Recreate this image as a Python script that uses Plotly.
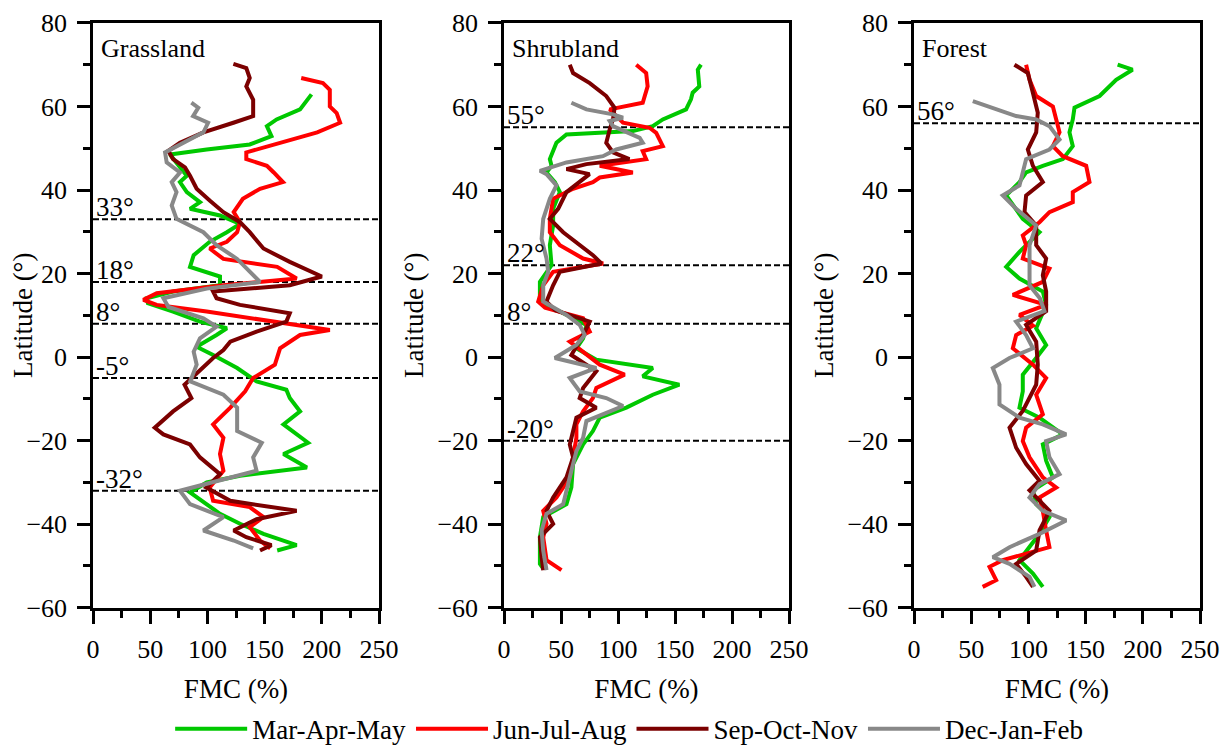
import plotly.graph_objects as go

# ---------------- DATA ----------------
seasons = ["Mar-Apr-May", "Jun-Jul-Aug", "Sep-Oct-Nov", "Dec-Jan-Feb"]
colors = ["#00c800", "#ff0000", "#7b0000", "#888888"]
panels = ["Grassland", "Shrubland", "Forest"]

# Grassland
grass_mam_lat = [62.9,59.3,56.9,55.3,52.9,50.9,49.7,48.5,45.8,43.4,41.9,39.5,37.1,35.5,33.9,31.9,29.9,27.6,24.4,21.6,19.3,17.2,15.7,14.1,12.9,10.9,8.5,6.9,5.3,2.5,0.5,-2.6,-5.8,-7.8,-9.8,-13,-16.1,-20.5,-23.2,-26.4,-28.4,-30,-32.4,-35.2,-37.5,-39.9,-42.3,-45,-46.3]
grass_mam_fmc = [191,181,160.5,152,156,137,99.4,67.3,75,82,76,82,93.5,84.8,111,128.5,117,102,88,84.8,111,111,70,47,48,70,93.5,117,108,90.6,105,126,143,169,172,181,166.5,188,166.5,187,128.5,99.4,84.8,99.4,111,128.5,149,178,161]
grass_jja_lat = [66.8,65.6,64,60,58.4,56.1,53.8,50.5,49,47.4,45.8,44.2,41.9,40.3,37.9,34.7,32.3,29.9,27.6,26,23.5,21.6,18.8,17.2,15.3,13.7,12.5,10.9,6.5,5.3,2.1,-1.8,-5,-8.2,-12.1,-16.1,-19.3,-23.2,-27.2,-31.2,-34.4,-35.9,-38.3,-40.7,-43.9,-45.8]
grass_jja_fmc = [182,201,207,207,213,216,196,155,134,134,152,158,166,146,131,123,128.5,126,117,102,114,161,178,114,55.7,44,55.7,99.4,207,181,163.5,159,140,133,120,105,114,111,114,102,105,137,149,137,146,155]
grass_son_lat = [70.2,69.2,66.8,64.8,61.6,57.7,56.1,53.8,51.3,49.4,47.4,45.4,43.4,40.3,37.5,34.7,32.3,29.9,26,22.8,19.3,17.2,15.7,14.1,12.5,10.5,8.5,6.1,3.7,1.7,-0.2,-3,-6.6,-9.8,-13,-16.9,-18.5,-20.9,-24,-28,-31.2,-34.4,-36.8,-38.8,-41.5,-43.1,-45,-46.3]
grass_son_fmc = [122.7,134,137,134,140,140,122.7,96.5,76,65.8,70,80.4,84.8,90.6,102,114,128.5,137,149,172,200,172,105,108,128.5,172,169,143,120,114,105,93.5,80,86,70,54,61.5,84.8,93.5,111,99,120,178,143,123,134,156,146]
grass_djf_lat = [60.9,59.7,57.7,56.1,53.8,51,49,46.6,44.2,41.9,39.5,36.3,33.1,29.9,26.8,23.5,20.4,18,16.4,14.1,12,9.3,7.3,4.5,1.3,-1.8,-5.8,-9,-12.1,-17.7,-20.5,-24,-27.2,-30.4,-32,-35.2,-38.3,-41.5,-43.9,-45.8]
grass_djf_fmc = [86,92,87.5,100.6,96.5,76,63,64.4,76,68.8,73,68.8,73,96.5,108,126,137,146,99.4,61.5,66,96.5,108,93.5,88,90.6,85,114,126,126,147.5,140,143,99.4,76,84.8,114,96.5,123,140]

# Shrubland
shrub_mam_lat = [70,68.8,64.8,63.3,61.7,59.3,56.9,55.3,54.1,53.3,51.3,47.4,45.8,44.2,41.9,39.5,35.5,31.5,26.8,22,18,13.3,10.9,7.7,4.5,2.1,-0.6,-2.6,-4.6,-6.6,-9,-12.1,-14.5,-17.7,-20.9,-25.6,-31.2,-35.2,-38.3,-43.1,-49.5,-50.6]
shrub_mam_fmc = [172.8,170,171.3,165.5,164,159.7,139.3,130.5,113,54.8,46,40.2,41.7,37.3,44.6,49,43.1,43.1,40.2,41.7,31.5,31.5,49,72.3,69.4,63.5,81,130.5,121.7,153.8,130.5,107.3,84,78,69.4,60.6,59.1,54.8,34.4,31.5,31.5,34.4]
shrub_jja_lat = [70,68,64.8,60.9,59.3,56.1,54.9,53.7,50.5,49.3,47.4,45.8,44.2,43,41.9,40.3,37.9,33.1,29.9,26.8,23.6,22.4,20.4,17.2,13.3,11.8,9.3,6.1,3.7,1.3,-1.8,-4.2,-7.4,-9.8,-13,-16.1,-19.3,-24,-28.8,-33.6,-36.8,-39.9,-43.1,-48.6,-51]
shrub_jja_fmc = [116,124.7,126,121.7,92.7,104.4,127.6,133.5,139.3,121.7,124.7,84,113,84,78,60.6,43.1,40.2,40.2,49,69.4,87,43.1,34.4,30,36,69.4,75.2,57.7,69.4,84,105.8,81,78,69.4,63.5,63.5,60.6,57.7,46,34.4,37.3,34.4,37.3,50.4]
shrub_son_lat = [70,68,65.6,62.5,59.7,56.9,54.5,51.3,49,47.4,46.2,45,43.8,41.9,39.5,35.5,33.1,29.9,26.8,24.4,22.4,20.4,17.2,13.3,11.2,8.5,5.3,0.5,-3.4,-7.4,-9.8,-12.1,-14.5,-17.7,-20.9,-24,-28.8,-33.6,-36.8,-39.9,-43.1,-47.9,-51]
shrub_son_fmc = [57.7,60.6,75.2,89.7,97,95.6,92.7,89.7,95.6,110,72.3,54.8,75,66.4,54.8,47.5,40.2,51.9,66.4,78,85.4,49,43.1,37.3,45,75.2,69.4,59.1,81,69.4,66.4,81,63.5,60.6,57.7,60.6,54.8,43.1,37.3,43.1,31.5,33,34.4]
shrub_djf_lat = [60.9,59.3,58.1,57.3,56.5,55.3,52.5,51.3,49.7,48.1,46.6,44.6,43.8,41.1,37.9,33.1,28.3,23.6,20.4,17.2,13.3,10.1,7.7,5.3,2.9,-0.2,-2.6,-5,-8.2,-9.8,-11.7,-13.3,-15.3,-19.3,-22.5,-27.2,-32,-35.2,-37.5,-41.5,-46.3,-51]
shrub_djf_fmc = [59.1,72.3,95.6,104.4,92.7,95.6,119,121.7,98.5,86.8,54.8,31.5,37.3,46,40.2,34.4,33,37.3,38.8,34.4,34.4,54.8,66.4,70.8,63.5,44.6,81,57.7,66.4,89.7,104.4,89.7,72.3,69.4,63.5,59.1,54.8,51.9,37.3,33,34.4,37.3]

# Forest
forest_mam_lat = [70,68.8,66.4,62.5,59.7,56.9,53.8,50.5,47.4,45.8,44.2,41.9,38.7,36.3,33.1,29.9,25.2,21.6,18.8,15.7,12.5,6.9,2.9,-0.2,-4.2,-8.2,-12.1,-14.5,-18.5,-20.9,-24.8,-28.8,-31.9,-35.2,-38.3,-42.3,-48.6,-51.8,-55]
forest_mam_fmc = [178,191,176.7,162.2,140.3,138.8,135.9,138.8,130.1,112.6,98,92.2,80.6,86.4,95.1,109.7,92.2,80.6,92.2,112.6,115.5,106.8,115.5,106.8,95.1,95.1,92.2,109.7,130.1,112.6,115.5,121.4,104,106.8,118.4,109.7,92.2,104,112.6]
forest_jja_lat = [70,66.4,62.5,60,56.9,53.8,50.5,48.1,45.8,41.9,39.5,37.1,34.7,32.3,29.1,26.8,23.6,21.2,18,14.9,12.5,10.1,7.5,5.3,2.1,-1.8,-5,-9,-13.7,-16.9,-20.1,-24,-28.8,-31.2,-33.6,-36.8,-41.5,-45.5,-48.6,-50.2,-53.4,-55]
forest_jja_fmc = [98,101,106.8,121.4,124.3,127.2,121.4,130.1,150.5,153.4,138.8,138.8,118.4,109.7,95.1,98,95.1,118.4,112.6,86.4,115.5,92.2,104,89.3,86.4,104,115.5,106.8,112.6,98,95.1,101,112.6,124.3,109.7,112.6,115.5,118.4,77.6,66,71.8,60]
forest_son_lat = [70,68,63.3,58.5,53.8,49.7,45.8,41.9,38.7,34.7,31.5,26.8,23.6,19.6,15.7,11,7.7,3.7,-1.8,-6.6,-12.9,-16.9,-21.7,-25.6,-29.6,-31.9,-36.8,-41.5,-46.3,-49.5,-52.6,-55]
forest_son_fmc = [87.8,99.5,103.9,108.2,106.8,99.5,103.9,112.6,98,96.6,106.8,106.8,115.5,112.6,115.5,115.5,98,106.8,108.2,106.8,95.1,83.5,89.3,98,109.7,101,118.4,109.7,106.8,89.3,98,104]
forest_djf_lat = [61.3,59.3,57.7,56.9,55.3,52.1,49.7,47.4,44.2,41.1,38.7,35.5,31.5,26.8,20.4,17.2,14.1,11,8.5,5.3,2.1,-0.2,-2.6,-6.6,-11.3,-14.5,-16.1,-18.5,-20.1,-24,-28,-30.4,-33.6,-36.8,-39.1,-42.3,-45.5,-47.9,-49.5,-52.6,-55]
forest_djf_fmc = [51.4,71.8,89.3,106.8,118.4,127.2,118.4,98,95.1,92.2,77.6,89.3,106.8,101,101,101,110,114,89.3,98,104,83.5,68.9,74.7,74.7,92.2,112.6,133,115.5,118.4,127.2,109.7,101,112.6,133,109.7,83.5,68.9,83.5,101,105.3]

# Reference latitudes (dashed lines)
grass_breaks = [33, 18, 8, -5, -32]
shrub_breaks = [55, 22, 8, -20]
forest_breaks = [56]

x_ticks = [0, 50, 100, 150, 200, 250]
y_ticks = [-60, -40, -20, 0, 20, 40, 60, 80]

# ---------------- FIGURE ----------------
series = [
    [(grass_mam_fmc, grass_mam_lat), (grass_jja_fmc, grass_jja_lat), (grass_son_fmc, grass_son_lat), (grass_djf_fmc, grass_djf_lat)],
    [(shrub_mam_fmc, shrub_mam_lat), (shrub_jja_fmc, shrub_jja_lat), (shrub_son_fmc, shrub_son_lat), (shrub_djf_fmc, shrub_djf_lat)],
    [(forest_mam_fmc, forest_mam_lat), (forest_jja_fmc, forest_jja_lat), (forest_son_fmc, forest_son_lat), (forest_djf_fmc, forest_djf_lat)],
]
breaks = [grass_breaks, shrub_breaks, forest_breaks]

W, H = 1230, 746
OFF = 8  # page body margin in the browser
x_px = [(93 - OFF, 379 - OFF), (504 - OFF, 789 - OFF), (914 - OFF, 1200 - OFF)]
y_dom = [1 - (611 - OFF) / H, 1 - (23 - OFF) / H]
FONT = "Liberation Serif"

fig = go.Figure()
for p in range(3):
    sx = "" if p == 0 else str(p + 1)
    for s in range(4):
        xs, ys = series[p][s]
        fig.add_trace(go.Scatter(
            x=xs, y=ys, mode="lines", name=seasons[s],
            line=dict(color=colors[s], width=4),
            xaxis="x" + sx, yaxis="y" + sx,
            legendgroup=seasons[s], showlegend=(p == 0),
        ))
    axis_common = dict(showline=True, linecolor="black", linewidth=2.5, mirror=True,
                       ticks="outside", ticklen=13, tickwidth=2.5, tickcolor="black",
                       showgrid=False, zeroline=False, automargin=False,
                       tickfont=dict(family=FONT, size=26, color="black"))
    fig.update_layout(**{
        "xaxis" + sx: dict(axis_common, domain=[x_px[p][0] / W, x_px[p][1] / W],
                           range=[0, 250], tickvals=x_ticks, anchor="y" + sx, ticklabelstandoff=3,
                           minor=dict(ticks="outside", ticklen=7, tickwidth=2.5, dtick=25, tick0=0, tickcolor="black"),
                           title=dict(text="FMC (%)", font=dict(family=FONT, size=27, color="black"), standoff=17)),
        "yaxis" + sx: dict(axis_common, domain=y_dom, range=[-60, 80], tickvals=y_ticks, anchor="x" + sx,
                           ticklabelstandoff=5,
                           minor=dict(ticks="outside", ticklen=7, tickwidth=2.5, dtick=10, tick0=0, tickcolor="black"),
                           title=dict(text="Latitude (°)", font=dict(family=FONT, size=27, color="black"), standoff=6)),
    })
    for b in breaks[p]:
        fig.add_shape(type="line", xref="x" + sx + " domain", yref="y" + sx,
                      x0=0, x1=1, y0=b, y1=b,
                      line=dict(color="black", width=2, dash="6px,3px"), layer="below")
        fig.add_annotation(xref="x" + sx + " domain", yref="y" + sx, x=0.005, y=b,
                           text=f"{b}°", showarrow=False, xanchor="left", yanchor="bottom",
                           yshift=-5, font=dict(family=FONT, size=27, color="black"))
    fig.add_annotation(xref="x" + sx + " domain", yref="y" + sx + " domain", x=0.02, y=0.985,
                       text=panels[p], showarrow=False, xanchor="left", yanchor="top",
                       font=dict(family=FONT, size=26, color="black"))

fig.update_layout(
    width=W, height=H, margin=dict(l=0, r=0, t=0, b=0),
    plot_bgcolor="white", paper_bgcolor="white",
    font=dict(family=FONT, size=24, color="black"),
    legend=dict(orientation="h", x=0.505, xanchor="center", y=1 - (733 - OFF) / H, yanchor="middle",
                font=dict(family=FONT, size=27, color="black"), itemwidth=72,
                bgcolor="rgba(0,0,0,0)"),
)

fig.write_html("out.html")
